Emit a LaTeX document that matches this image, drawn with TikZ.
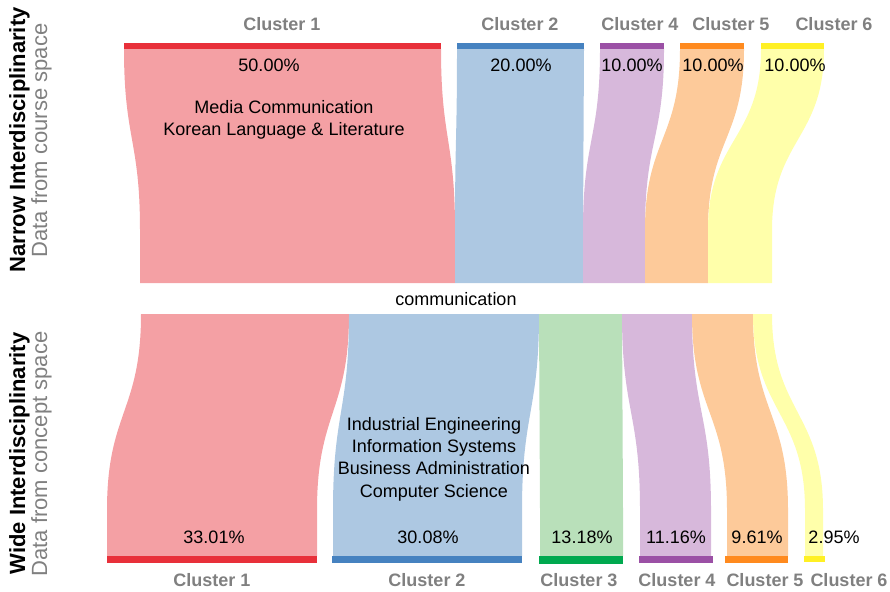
\documentclass[tikz,border=0pt]{standalone}
\usepackage{fontspec}
\setmainfont{Liberation Sans}
\definecolor{redbar}{HTML}{E8303A}
\definecolor{redflow}{HTML}{F4A0A4}
\definecolor{bluebar}{HTML}{4682C0}
\definecolor{blueflow}{HTML}{ADC8E2}
\definecolor{greenbar}{HTML}{00A94F}
\definecolor{greenflow}{HTML}{B9E0BA}
\definecolor{purplebar}{HTML}{9B50A5}
\definecolor{purpleflow}{HTML}{D7B8DB}
\definecolor{orangebar}{HTML}{FF8A1E}
\definecolor{orangeflow}{HTML}{FDCA9A}
\definecolor{yellowbar}{HTML}{FFF024}
\definecolor{yellowflow}{HTML}{FFFFAA}
\definecolor{labelgray}{HTML}{808080}
% band: colour, top left, top right, bottom left, bottom right, y top, y bend, y bottom
\newcommand{\band}[8]{%
  \fill[#1] (#2,#6) .. controls (#2,{(#6+#7)/2}) and (#4,{(#6+#7)/2}) .. (#4,#7) -- (#4,#8)
    -- (#5,#8) -- (#5,#7) .. controls (#5,{(#6+#7)/2}) and (#3,{(#6+#7)/2}) .. (#3,#6) -- cycle;}
\begin{document}
\begin{tikzpicture}[x=1pt, y=-1pt, inner sep=0pt, font=\fontsize{18}{22}\selectfont]
\tikzset{clabel/.style={anchor=base, text=labelgray, font=\fontsize{18}{22}\selectfont\bfseries},
  pct/.style={anchor=base},
  side/.style={rotate=90, anchor=base, font=\fontsize{22}{26}\selectfont}}
\useasboundingbox (0,0) rectangle (890,591);
% course space
\band{redflow}{124}{441}{140}{455}{49}{230}{283}
\band{blueflow}{457}{584}{455}{583}{49}{230}{283}
\band{purpleflow}{600}{664}{583}{645}{49}{230}{283}
\band{orangeflow}{680}{744}{645}{708}{49}{230}{283}
\band{yellowflow}{761}{824}{708}{772}{49}{230}{283}
\fill[redbar] (124,43) rectangle (441,49);
\fill[bluebar] (457,43) rectangle (584,49);
\fill[purplebar] (600,43) rectangle (664,49);
\fill[orangebar] (680,43) rectangle (744,49);
\fill[yellowbar] (761,43) rectangle (824,49);
% concept space
\band{redflow}{141}{349}{107}{317}{314}{510}{556}
\band{blueflow}{349}{539}{333}{522}{314}{510}{556}
\band{greenflow}{539}{622}{540}{623}{314}{510}{556}
\band{purpleflow}{622}{692}{640}{711}{314}{510}{556}
\band{orangeflow}{692}{753}{727}{788}{314}{510}{556}
\band{yellowflow}{753}{772}{805}{823}{314}{510}{556}
\fill[redbar] (107,556) rectangle (317,563);
\fill[bluebar] (332,556) rectangle (522,563);
\fill[greenbar] (539,556) rectangle (623,564);
\fill[purplebar] (639,556) rectangle (713,563);
\fill[orangebar] (725,556) rectangle (788,563);
\fill[yellowbar] (804,556) rectangle (825,562);
\node[clabel] (n1) at (282,30.5) {Cluster 1};
\node[clabel] (n2) at (520,30.5) {Cluster 2};
\node[clabel] (n4) at (640,30.5) {Cluster 4};
\node[clabel] (n5) at (731,30.5) {Cluster 5};
\node[clabel] (n6) at (834,30.5) {Cluster 6};
\node[pct] (p1) at (269,72) {50.00\%};
\node[pct] (p2) at (521,72) {20.00\%};
\node[pct] (p4) at (632,72) {10.00\%};
\node[pct] (p5) at (713,72) {10.00\%};
\node[pct] (p6) at (795,72) {10.00\%};
\node[align=center] (narrowmajors) at (284,119.5) {Media Communication\\Korean Language \& Literature};
\node[anchor=base] (concept) at (456,305) {communication};
\node[align=center, font=\fontsize{18}{22.3}\selectfont] (widemajors) at (434,459) {Industrial Engineering\\Information Systems\\Business Administration\\Computer Science};
\node[pct] (q1) at (214,543) {33.01\%};
\node[pct] (q2) at (428,543) {30.08\%};
\node[pct] (q3) at (582,543) {13.18\%};
\node[pct] (q4) at (676,543) {11.16\%};
\node[pct] (q5) at (757,543) {9.61\%};
\node[pct] (q6) at (834,543) {2.95\%};
\node[clabel] (w1) at (212,586) {Cluster 1};
\node[clabel] (w2) at (427,586) {Cluster 2};
\node[clabel] (w3) at (579,586) {Cluster 3};
\node[clabel] (w4) at (677,586) {Cluster 4};
\node[clabel] (w5) at (765,586) {Cluster 5};
\node[clabel] (w6) at (849,586) {Cluster 6};
\node[side, font=\fontsize{22}{26}\selectfont\bfseries] (narrow) at (25,140) {Narrow Interdisciplinarity};
\node[side, text=labelgray] (course) at (47,140.5) {Data from course space};
\node[side, font=\fontsize{22}{26}\selectfont\bfseries] (wide) at (25,453.5) {Wide Interdisciplinarity};
\node[side, text=labelgray] (conceptspace) at (47,454) {Data from concept space};
\end{tikzpicture}
\end{document}
